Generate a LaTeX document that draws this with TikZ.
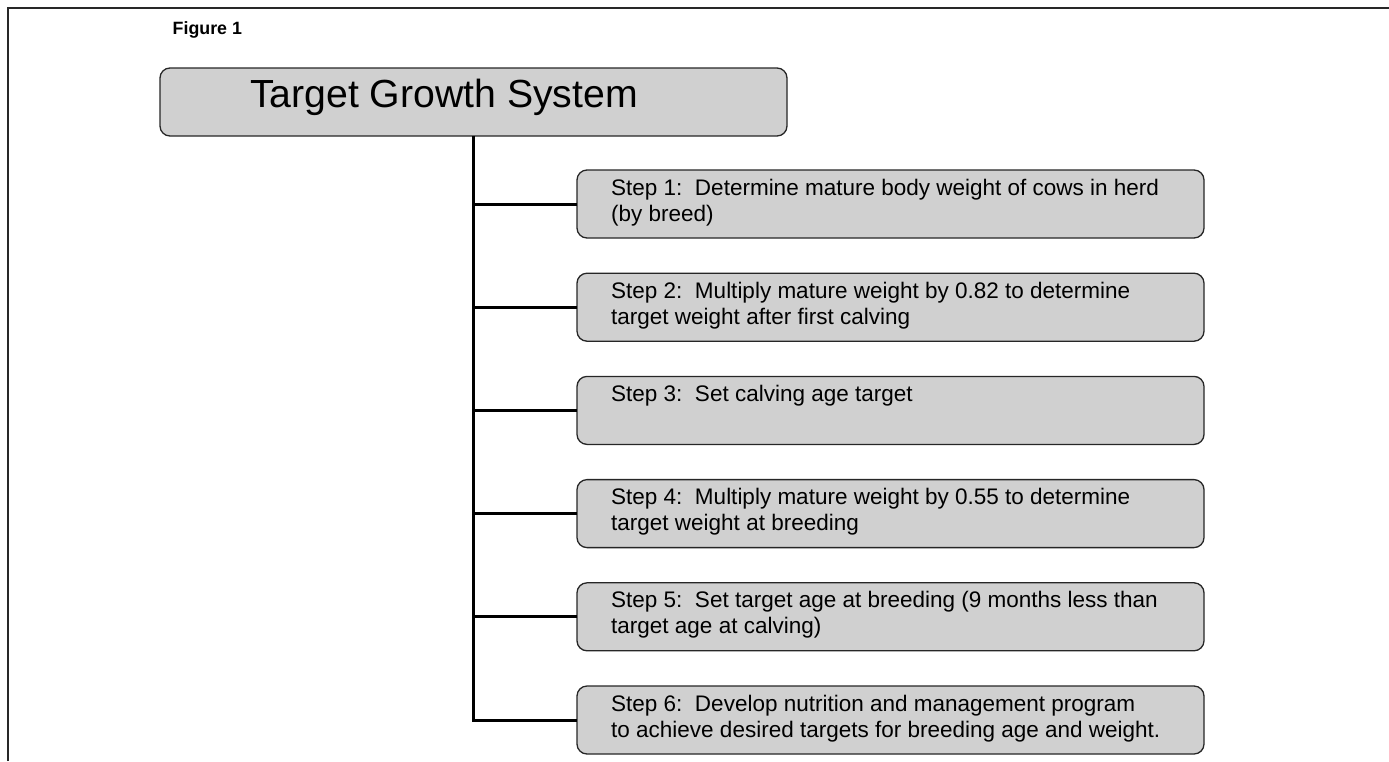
\documentclass[tikz,border=0pt]{standalone}
\usepackage{fontspec}
\setmainfont{Liberation Sans}
\definecolor{boxgray}{RGB}{208,208,208}
\definecolor{framegray}{RGB}{40,40,40}
\begin{document}
\begin{tikzpicture}[x=1pt,y=-1pt,
  box/.style={draw=black!85, line width=1.3pt, fill=boxgray, rounded corners=10pt,
    inner sep=0pt, outer sep=0pt, anchor=north west},
  steptext/.style={anchor=base west, inner sep=0pt, align=left,
    font=\fontsize{22.5}{26}\selectfont},
  conn/.style={line width=3pt, black},
  frameline/.style={line width=2.5pt, framegray}]
\useasboundingbox (0,0) rectangle (1389,761);
% frame
\coordinate (fbl) at (8,761);
\coordinate (ftl) at (8,8);
\coordinate (ftr) at (1389,8);
\draw[frameline] (fbl) -- (ftl) -- (ftr);
% figure label
\node[anchor=base west, inner sep=0pt, font=\bfseries\fontsize{17.8}{20}\selectfont] (fig) at (172.5,34) {Figure 1};
% title
\node[box, minimum width=627pt, minimum height=68pt] (title) at (160,68) {};
\node[anchor=base west, inner sep=0pt, font=\fontsize{39.2}{44}\selectfont] (titletext) at (250,107) {Target Growth System};
% steps
\foreach \i/\n/\t in {
  1/2/{Step 1:\ \ Determine mature body weight of cows in herd\\(by breed)},
  2/2/{Step 2:\ \ Multiply mature weight by 0.82 to determine\\target weight after first calving},
  3/1/{Step 3:\ \ Set calving age target},
  4/2/{Step 4:\ \ Multiply mature weight by 0.55 to determine\\target weight at breeding},
  5/2/{Step 5:\ \ Set target age at breeding (9 months less than\\target age at calving)},
  6/2/{Step 6:\ \ Develop nutrition and management program\\to achieve desired targets for breeding age and weight.}}{
  \pgfmathsetmacro{\top}{170+103.2*(\i-1)}
  \pgfmathsetmacro{\bl}{\top+25+26*(\n-1)}
  \node[box, minimum width=627pt, minimum height=68pt] (s\i) at (577,\top) {};
  \node[steptext] (t\i) at (611,\bl) {\t};
}
% connectors
\coordinate (trunktop) at ([xshift=313pt]title.south west);
\draw[conn] (trunktop) |- (s6.west);
\foreach \i in {1,...,5}{
  \draw[conn] (s\i.west) -- (s\i.west -| trunktop);
}
\end{tikzpicture}
\end{document}
